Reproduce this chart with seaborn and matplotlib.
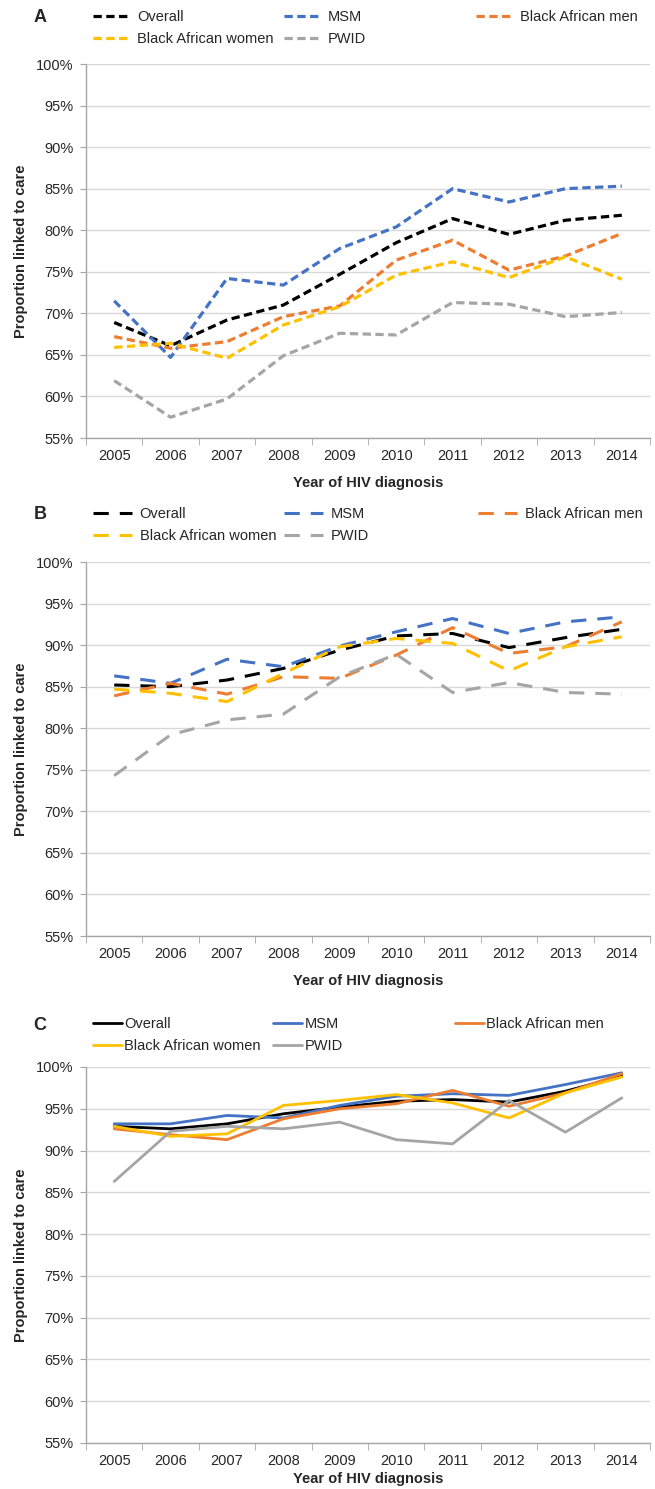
import matplotlib
matplotlib.use("Agg")
import numpy as np
import pandas as pd
import matplotlib.pyplot as plt
from matplotlib.lines import Line2D
import seaborn as sns

# Data (percent linked to care)
years = [2005, 2006, 2007, 2008, 2009, 2010, 2011, 2012, 2013, 2014]
groups = ["Overall", "MSM", "Black African men", "Black African women", "PWID"]
colors = ["#000000", "#4472C4", "#ED7D31", "#FFC000", "#A5A5A5"]
y_ticks = [55, 60, 65, 70, 75, 80, 85, 90, 95, 100]
y_tick_labels = ["55%", "60%", "65%", "70%", "75%", "80%", "85%", "90%", "95%", "100%"]

# Panel A
a_overall = [68.9, 66.1, 69.2, 71.0, 74.7, 78.5, 81.4, 79.5, 81.2, 81.8]
a_msm = [71.5, 64.7, 74.2, 73.4, 77.8, 80.4, 85.0, 83.4, 85.0, 85.3]
a_ba_men = [67.2, 65.8, 66.6, 69.6, 70.9, 76.4, 78.8, 75.2, 76.9, 79.6]
a_ba_women = [65.9, 66.4, 64.6, 68.6, 70.8, 74.6, 76.2, 74.3, 76.8, 74.1]
a_pwid = [61.9, 57.5, 59.7, 64.9, 67.6, 67.4, 71.3, 71.1, 69.6, 70.1]

# Panel B
b_overall = [85.2, 85.0, 85.8, 87.2, 89.4, 91.1, 91.4, 89.7, 90.9, 91.9]
b_msm = [86.3, 85.4, 88.3, 87.4, 89.9, 91.6, 93.2, 91.4, 92.8, 93.4]
b_ba_men = [83.9, 85.4, 84.1, 86.2, 86.0, 88.8, 92.1, 89.0, 89.8, 92.8]
b_ba_women = [84.7, 84.2, 83.2, 86.6, 89.8, 90.8, 90.2, 86.9, 89.8, 91.0]
b_pwid = [74.3, 79.2, 81.0, 81.7, 86.2, 88.9, 84.3, 85.5, 84.3, 84.1]

# Panel C
c_overall = [92.9, 92.6, 93.2, 94.4, 95.2, 95.9, 96.1, 95.8, 97.1, 98.9]
c_msm = [93.2, 93.2, 94.2, 93.9, 95.4, 96.5, 96.8, 96.6, 97.9, 99.3]
c_ba_men = [92.6, 91.9, 91.3, 93.8, 95.0, 95.6, 97.2, 95.3, 96.9, 99.2]
c_ba_women = [92.9, 91.7, 92.0, 95.4, 96.0, 96.7, 95.7, 93.9, 96.9, 98.8]
c_pwid = [86.3, 92.3, 92.9, 92.6, 93.4, 91.3, 90.8, 96.0, 92.2, 96.3]


def to_long(series):
    rows = []
    for g, vals in zip(groups, series):
        for yr, v in zip(years, vals):
            rows.append({"year": yr, "group": g, "value": v})
    return pd.DataFrame(rows)


sns.set_style("white")
plt.rcParams["font.family"] = ["Liberation Sans", "DejaVu Sans"]
plt.rcParams["font.size"] = 10.5

W, H = 655, 1489
fig = plt.figure(figsize=(W / 100, H / 100), dpi=100)
palette = dict(zip(groups, colors))


def draw_panel(top_px, bottom_px, series, letter, dash, lw, leg_top_px,
               handlelen, textpad, col2_px, col3_px, xlabelpad):
    ax = fig.add_axes([86 / W, 1 - bottom_px / H, (650 - 86) / W, (bottom_px - top_px) / H])
    df = to_long(series)
    if dash is None:
        sns.lineplot(data=df, x="year", y="value", hue="group", palette=palette,
                     hue_order=groups, lw=lw, legend=False, ax=ax)
    else:
        sns.lineplot(data=df, x="year", y="value", hue="group", style="group",
                     palette=palette, hue_order=groups, style_order=groups,
                     dashes={g: dash for g in groups}, lw=lw, legend=False, ax=ax)

    ax.set_xlim(years[0] - 0.5, years[-1] + 0.5)
    ax.set_ylim(55, 100)
    ax.set_yticks(y_ticks)
    ax.set_yticklabels(y_tick_labels)
    ax.set_xticks(years)
    ax.set_xticklabels([str(y) for y in years])
    ax.set_xticks(np.arange(years[0] - 0.5, years[-1] + 1), minor=True)
    ax.tick_params(axis="x", which="major", length=0, pad=8, labelsize=10.5)
    ax.tick_params(axis="x", which="minor", length=5, color="#A6A6A6", direction="out", bottom=True)
    ax.tick_params(axis="y", length=4, color="#A6A6A6", direction="out", left=True, pad=5, labelsize=10.5)
    ax.yaxis.grid(True, color="#D9D9D9", lw=1)
    ax.set_axisbelow(True)
    sns.despine(ax=ax)
    for s in ["left", "bottom"]:
        ax.spines[s].set_color("#A6A6A6")
        ax.spines[s].set_linewidth(1)
    ax.set_xlabel("Year of HIV diagnosis", fontweight="bold", fontsize=10.5, labelpad=xlabelpad)
    ax.set_ylabel("Proportion linked to care", fontweight="bold", fontsize=10.5, labelpad=6)

    # legend: Excel style grid, two parts
    def handle(i):
        if dash is None:
            return Line2D([0], [0], color=colors[i], lw=lw)
        return Line2D([0], [0], color=colors[i], lw=lw, dashes=dash)

    top = 1 - leg_top_px / H
    common = dict(frameon=False, borderpad=0, borderaxespad=0, handlelength=handlelen,
                  handletextpad=textpad, labelspacing=0.55, fontsize=10.5, loc="upper left")
    l1 = fig.legend([handle(0), handle(3)], [groups[0], groups[3]],
                    bbox_to_anchor=(93 / W, top), **common)
    l2 = fig.legend([handle(1), handle(4)], [groups[1], groups[4]],
                    bbox_to_anchor=(col2_px / W, top), **common)
    l3 = fig.legend([handle(2)], [groups[2]],
                    bbox_to_anchor=(col3_px / W, top), **common)
    fig.text(40 / W, 1 - (leg_top_px + 8) / H, letter, fontsize=13, fontweight="bold",
             ha="center", va="center")
    return ax


draw_panel(64, 438, [a_overall, a_msm, a_ba_men, a_ba_women, a_pwid], "A",
           (2.6, 1.4), 2.3, 10, 2.5, 0.5, 284, 476, 9)
draw_panel(562, 936, [b_overall, b_msm, b_ba_men, b_ba_women, b_pwid], "B",
           (5, 3.6), 2.2, 507, 2.7, 0.5, 284, 478, 9)
draw_panel(1067, 1443, [c_overall, c_msm, c_ba_men, c_ba_women, c_pwid], "C",
           None, 2.0, 1017, 2.0, 0.15, 273, 455, 3)

fig.savefig("out.png", dpi=100)
